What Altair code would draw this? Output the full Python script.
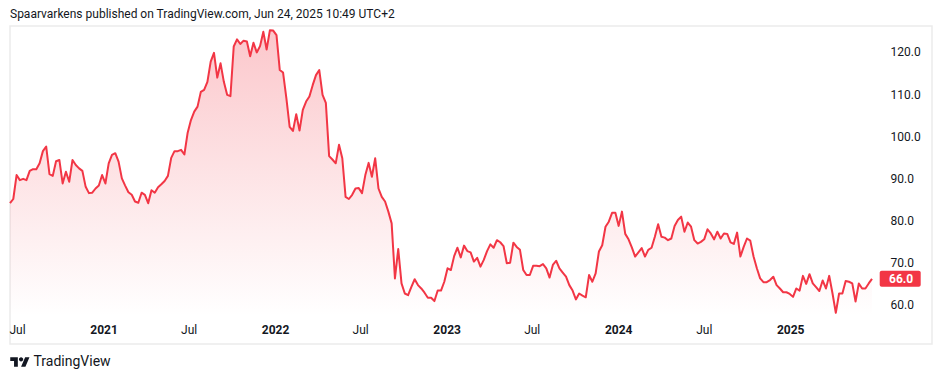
import altair as alt
import pandas as pd

# ---------------- data ----------------
TITLE = "Spaarvarkens published on TradingView.com, Jun 24, 2025 10:49 UTC+2"
BRAND = "TradingView"
start_date = "2020-06-16"   # first weekly close shown

values = [
    84.0, 85.0, 90.7, 89.5, 89.8, 89.5, 91.7, 92.1, 92.1, 93.5,
    96.4, 97.5, 90.9, 90.5, 94.0, 94.3, 88.7, 91.5, 89.1, 94.3,
    93.1, 92.3, 91.7, 87.9, 86.4, 86.5, 87.5, 88.2, 90.7, 88.7,
    93.5, 95.5, 95.9, 93.9, 89.9, 88.2, 86.6, 86.0, 84.4, 84.1,
    86.5, 86.0, 84.0, 87.1, 86.5, 87.8, 88.5, 89.3, 90.5, 94.8,
    96.4, 96.4, 96.7, 95.6, 100.8, 103.8, 105.8, 107.0, 110.5, 111.0,
    112.9, 117.7, 119.8, 113.9, 117.3, 112.9, 109.8, 109.5, 121.3, 123.0,
    121.9, 122.7, 122.5, 119.0, 122.2, 119.9, 121.4, 124.8, 120.6, 125.2,
    125.1, 124.0, 115.7, 115.1, 109.0, 102.2, 101.2, 105.2, 101.3, 106.2,
    108.2, 109.4, 112.1, 114.5, 115.7, 109.8, 107.9, 95.2, 94.4, 93.5,
    97.9, 94.7, 85.5, 85.0, 86.0, 87.5, 87.6, 86.4, 90.7, 93.6,
    90.3, 94.7, 87.5, 85.5, 84.4, 82.0, 79.2, 66.1, 73.1, 64.9,
    62.5, 62.1, 64.1, 65.9, 64.5, 63.7, 62.7, 61.5, 61.5, 60.7,
    63.2, 63.2, 65.3, 68.5, 68.1, 71.4, 73.4, 71.1, 73.9, 72.6,
    72.3, 70.1, 71.0, 68.9, 70.5, 72.6, 74.2, 73.4, 75.2, 74.7,
    73.8, 69.7, 69.8, 74.6, 73.6, 72.9, 68.1, 66.9, 66.9, 69.1,
    69.1, 69.0, 69.5, 68.5, 66.3, 69.3, 70.3, 68.5, 67.5, 66.5,
    64.5, 63.2, 61.1, 62.5, 62.0, 61.6, 66.9, 65.3, 67.3, 72.5,
    74.0, 78.4, 79.6, 81.7, 81.7, 78.6, 82.0, 76.7, 75.4, 73.5,
    71.3, 72.3, 73.3, 71.3, 72.9, 73.4, 76.0, 79.0, 76.0, 75.8,
    75.2, 75.6, 78.6, 80.0, 80.8, 77.2, 79.4, 78.4, 75.2, 74.4,
    74.8, 75.4, 77.8, 76.8, 75.4, 77.2, 75.6, 76.8, 76.7, 74.7,
    74.3, 77.0, 71.3, 73.6, 75.6, 75.1, 71.3, 68.5, 66.1, 65.2,
    65.2, 65.7, 66.5, 64.5, 63.7, 62.8, 62.8, 62.4, 61.7, 63.7,
    63.2, 66.7, 64.8, 67.1, 64.9, 64.0, 63.1, 65.6, 63.7, 66.7,
    62.5, 57.9, 62.5, 62.5, 65.5, 65.3, 64.9, 60.6, 64.9, 63.7,
    63.7, 64.9, 66.0,
]

y_ticks = [60, 70, 80, 90, 100, 110, 120]
x_tick_dates = ["2020-07-01", "2021-01-01", "2021-07-01", "2022-01-01", "2022-07-01",
                "2023-01-01", "2023-07-01", "2024-01-01", "2024-07-01", "2025-01-01"]

# ---------------- layout / style ----------------
FONT = "Roboto"
TXT = "#131722"
RED = "#F23645"
PLOT_W, PLOT_H = 922, 318
DATA_W = 862            # width used by the data inside the pane (rest = price scale)
Y_DOMAIN = [50.48, 126.19]
PANE_BOTTOM = 57.14     # value at the bottom of the price pane (fill baseline)

dates = pd.date_range(start_date, periods=len(values), freq="7D")
df = pd.DataFrame({"date": dates.strftime("%Y-%m-%d"), "value": values})


def ms(ts):
    return int(pd.Timestamp(ts).value // 10**6)


x0 = ms(dates[0])
x1 = ms(dates[-1])
x_domain = [x0, x0 + (x1 - x0) * PLOT_W / DATA_W]
x_ticks = [ms(d) for d in x_tick_dates]

x_scale = alt.Scale(type="utc", domain=x_domain)
y_scale = alt.Scale(domain=Y_DOMAIN, zero=False, nice=False)

x_axis = alt.Axis(
    values=x_ticks,
    labelExpr="utcmonth(datum.value) == 0 ? utcFormat(datum.value, '%Y') : utcFormat(datum.value, '%b')",
    labelFontWeight={"condition": {"test": "utcmonth(datum.value) == 0", "value": "bold"}, "value": "normal"},
    orient="bottom", offset=-14.5, labelPadding=0, labelBaseline="middle",
    ticks=False, tickSize=0, domain=False, grid=False, title=None,
    labelFlush=False, labelOverlap=False, labelFontSize=12,
)
y_axis = alt.Axis(
    values=y_ticks, format=".1f", orient="right", offset=-42, labelPadding=0,
    ticks=False, tickSize=0, domain=False, grid=False, title=None,
    labelBaseline="middle", labelAlign="left", labelFontSize=12,
    labelFlush=False, labelOverlap=False,
)

x_enc = alt.X("date:T", scale=x_scale, axis=x_axis)
y_enc = alt.Y("value:Q", scale=y_scale, axis=y_axis)

gradient = alt.Gradient(
    gradient="linear",
    stops=[alt.GradientStop(color="rgba(242,54,69,0.28)", offset=0),
           alt.GradientStop(color="rgba(242,54,69,0.0)", offset=1)],
    x1=1, x2=1, y1=0, y2=1,
)

area = alt.Chart(df).mark_area(color=gradient).encode(
    x=x_enc, y=y_enc, y2=alt.datum(PANE_BOTTOM)
)
line = alt.Chart(df).mark_line(color=RED, strokeWidth=2, strokeJoin="round").encode(
    x=x_enc, y=y_enc
)

last_df = pd.DataFrame({"value": [values[-1]]})
tag = alt.Chart(last_df).transform_calculate(
    top="datum.value + 1.9", bot="datum.value - 1.9"
).mark_rect(color=RED, cornerRadius=2).encode(
    x=alt.value(869.7), x2=alt.value(910.7),
    y=alt.Y("top:Q", scale=y_scale, axis=y_axis), y2="bot:Q",
)
tag_text = alt.Chart(last_df).mark_text(
    align="left", baseline="middle", color="white", fontWeight="bold", fontSize=12, font=FONT
).encode(
    x=alt.value(879), y=alt.Y("value:Q", scale=y_scale, axis=y_axis),
    text=alt.Text("value:Q", format=".1f"),
)

title = alt.Chart(pd.DataFrame({"t": [TITLE]})).mark_text(
    align="left", baseline="alphabetic", fontSize=12, font=FONT, color=TXT
).encode(text="t:N", x=alt.value(0), y=alt.value(-8))

brand = alt.Chart(pd.DataFrame({"t": [BRAND]})).mark_text(
    align="left", baseline="middle", fontSize=14, font=FONT, color=TXT
).encode(text="t:N", x=alt.value(23.5), y=alt.value(336))

LOGO = ("M-0.222 0.5 L-0.611 0.5 L-0.611 -0.111 L-1 -0.111 L-1 -0.5 L-0.222 -0.5 Z "
        "M0.556 0.5 L0.111 0.5 L0.528 -0.5 L0.972 -0.5 Z "
        "M-0.111 -0.278 A0.222 0.222 0 1 0 0.333 -0.278 A0.222 0.222 0 1 0 -0.111 -0.278 Z")
logo = alt.Chart(pd.DataFrame({"t": [1]})).mark_point(
    shape=LOGO, size=380, filled=True, color=TXT, opacity=1, strokeWidth=0
).encode(x=alt.value(10), y=alt.value(336))

chart = alt.layer(area, line, tag, tag_text, title, brand, logo).properties(
    width=PLOT_W, height=PLOT_H,
    autosize=alt.AutoSizeParams(type="none"),
    padding={"left": 2, "top": 18, "right": 2, "bottom": 26},
).configure_view(
    stroke="#EBEBEB", strokeWidth=1.5
).configure_axis(
    labelFont=FONT, labelColor=TXT
)

chart.save("out.html", embed_options={"renderer": "svg", "actions": False})
